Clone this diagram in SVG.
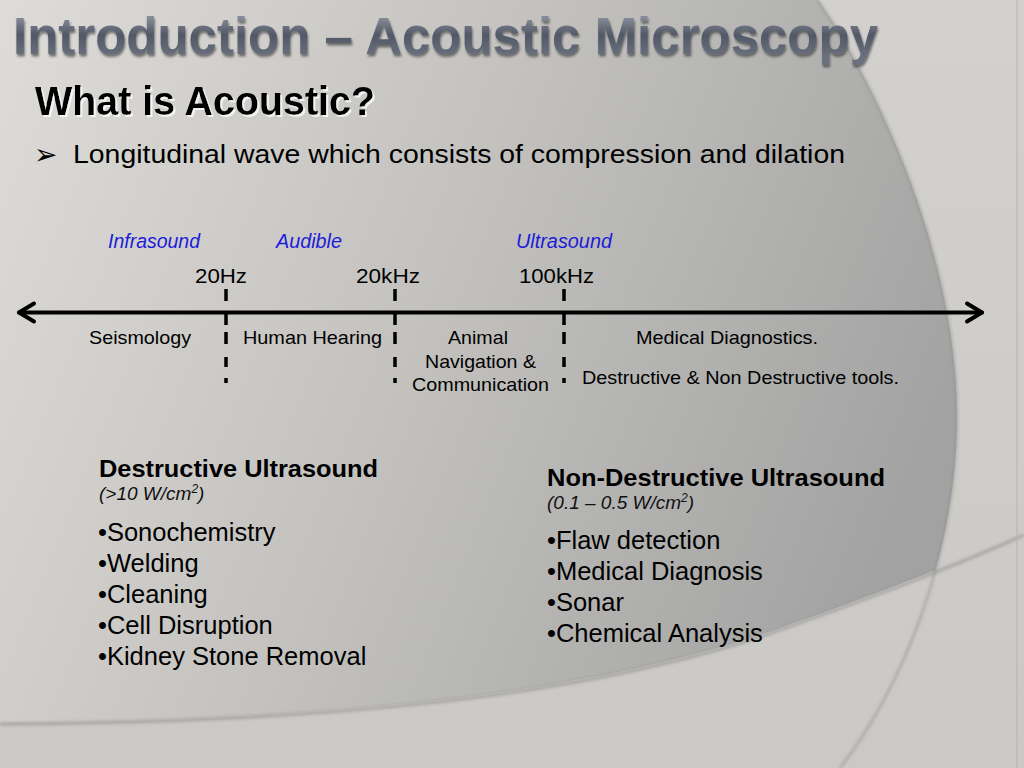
<svg xmlns="http://www.w3.org/2000/svg" width="1024" height="768" viewBox="0 0 1024 768">
<defs>
  <style>
    text { font-family: "Liberation Sans", Arial, sans-serif; fill: #000; }
    .range { font-size: 19.5px; font-style: italic; fill: #1c1cd8; }
    .freq { font-size: 21px; }
    .band { font-size: 19px; }
    .head { font-size: 24px; font-weight: bold; }
    .sub { font-size: 19px; font-style: italic; fill: #111; }
    .item { font-size: 25.5px; }
    .axis { stroke: #000; stroke-width: 4; fill: none; stroke-linecap: round; stroke-linejoin: round; }
    .tick { stroke: #000; stroke-width: 3.5; fill: none; }
  </style>
  <linearGradient id="bgOuter" x1="0" y1="0" x2="0" y2="1">
    <stop offset="0" stop-color="#d2d1ce"/>
    <stop offset="1" stop-color="#cbc9c6"/>
  </linearGradient>
  <linearGradient id="bgInner" x1="0" y1="0" x2="1" y2="0.3">
    <stop offset="0" stop-color="#dedcd8"/>
    <stop offset="0.5" stop-color="#c2c1be"/>
    <stop offset="1" stop-color="#a2a2a2"/>
  </linearGradient>
  <linearGradient id="titleFill" gradientUnits="userSpaceOnUse" x1="0" y1="18" x2="0" y2="56">
    <stop offset="0" stop-color="#848a96"/>
    <stop offset="0.45" stop-color="#525866"/>
    <stop offset="1" stop-color="#6a707d"/>
  </linearGradient>
  <clipPath id="arcClip">
    <path d="M0 0 H818 C880 90 958 260 957 420 C956 560 900 690 840 768 H0 Z"/>
  </clipPath>
  <clipPath id="bottomClip">
    <path d="M0 0 H1024 V533 C960 562 860 600 760 635 C560 700 300 720 0 722 Z"/>
  </clipPath>
  <filter id="titleShadow" x="-5%" y="-20%" width="110%" height="150%">
    <feDropShadow dx="1" dy="2.5" stdDeviation="1.2" flood-color="#2a2a2a" flood-opacity="0.6"/>
  </filter>
  <filter id="whiteShadow" x="-5%" y="-20%" width="110%" height="150%">
    <feDropShadow dx="2" dy="2" stdDeviation="0.6" flood-color="#ffffff" flood-opacity="0.75"/>
  </filter>
  <filter id="soft" x="-5%" y="-5%" width="110%" height="110%">
    <feGaussianBlur stdDeviation="1.5"/>
  </filter>
</defs>

<!-- background -->
<g id="background">
  <rect x="0" y="0" width="1024" height="768" fill="url(#bgOuter)"/>
  <g clip-path="url(#bottomClip)">
    <g clip-path="url(#arcClip)">
      <rect x="0" y="0" width="1024" height="768" fill="url(#bgInner)"/>
    </g>
  </g>
  <path d="M818 0 C880 90 958 260 957 420 C956 560 900 690 840 768" fill="none" stroke="#8a8a8a" stroke-width="2.5" stroke-opacity="0.5" filter="url(#soft)"/>
  <path d="M0 724 C300 722 560 702 760 637 C860 602 960 564 1024 535" fill="none" stroke="#7e7e7e" stroke-width="3" stroke-opacity="0.5" filter="url(#soft)"/>
  <line x1="1017" y1="0" x2="1017" y2="768" stroke="#b8b7b4" stroke-width="2" stroke-opacity="0.6"/>
</g>

<g id="title">
  <text x="13" y="54" font-size="51" font-weight="bold" textLength="865" lengthAdjust="spacingAndGlyphs" style="fill:url(#titleFill)" filter="url(#titleShadow)">Introduction – Acoustic Microscopy</text>
</g>

<g id="heading">
  <text x="35" y="115" font-size="40" font-weight="bold" textLength="340" lengthAdjust="spacingAndGlyphs" filter="url(#whiteShadow)">What is Acoustic?</text>
</g>

<g id="definition">
  <text x="34" y="164" font-size="28" style="font-family:'DejaVu Sans',sans-serif">➢</text>
  <text x="73" y="163" font-size="26" textLength="772" lengthAdjust="spacingAndGlyphs">Longitudinal wave which consists of compression and dilation</text>
</g>

<!-- connectors: frequency axis and boundaries -->
<g id="connectors">
  <line class="axis" x1="19" y1="312.5" x2="982" y2="312.5"/>
  <path class="axis" d="M34 303.5 L19 312.5 L34 321.5"/>
  <path class="axis" d="M967 303.5 L982 312.5 L967 321.5"/>
  <path class="tick" d="M226 289 V301 M226 311 V325 M226 332 V344 M226 357 V367 M226 378 V383"/>
  <path class="tick" d="M395 289 V301 M395 311 V325 M395 332 V344 M395 357 V367 M395 378 V383"/>
  <path class="tick" d="M564 289 V301 M564 311 V325 M564 332 V344 M564 357 V367 M564 378 V383"/>
</g>

<g id="range-infrasound"><text class="range" x="108" y="248" textLength="92" lengthAdjust="spacingAndGlyphs">Infrasound</text></g>
<g id="range-audible"><text class="range" x="276" y="248" textLength="66" lengthAdjust="spacingAndGlyphs">Audible</text></g>
<g id="range-ultrasound"><text class="range" x="516" y="248" textLength="96" lengthAdjust="spacingAndGlyphs">Ultrasound</text></g>

<g id="freq-20hz"><text class="freq" x="195" y="283" textLength="52" lengthAdjust="spacingAndGlyphs">20Hz</text></g>
<g id="freq-20khz"><text class="freq" x="356" y="283" textLength="64" lengthAdjust="spacingAndGlyphs">20kHz</text></g>
<g id="freq-100khz"><text class="freq" x="519" y="283" textLength="75" lengthAdjust="spacingAndGlyphs">100kHz</text></g>

<g id="band-seismology"><text class="band" x="89" y="344" textLength="102" lengthAdjust="spacingAndGlyphs">Seismology</text></g>
<g id="band-human"><text class="band" x="243" y="344" textLength="139" lengthAdjust="spacingAndGlyphs">Human Hearing</text></g>
<g id="band-animal">
  <text class="band" x="448" y="344" textLength="60" lengthAdjust="spacingAndGlyphs">Animal</text>
  <text class="band" x="425" y="368" textLength="111" lengthAdjust="spacingAndGlyphs">Navigation &amp;</text>
  <text class="band" x="412" y="391" textLength="137" lengthAdjust="spacingAndGlyphs">Communication</text>
</g>
<g id="band-medical">
  <text class="band" x="636" y="344" textLength="182" lengthAdjust="spacingAndGlyphs">Medical Diagnostics.</text>
  <text class="band" x="582" y="384" textLength="317" lengthAdjust="spacingAndGlyphs">Destructive &amp; Non Destructive tools.</text>
</g>

<g id="destructive">
  <text class="head" x="99" y="477" textLength="279" lengthAdjust="spacingAndGlyphs">Destructive Ultrasound</text>
  <text class="sub" x="99" y="500">(&gt;10 W/cm<tspan font-size="12" dy="-7">2</tspan><tspan dy="7">)</tspan></text>
  <text class="item" x="98" y="541">•Sonochemistry</text>
  <text class="item" x="98" y="572">•Welding</text>
  <text class="item" x="98" y="603">•Cleaning</text>
  <text class="item" x="98" y="634">•Cell Disruption</text>
  <text class="item" x="98" y="665">•Kidney Stone Removal</text>
</g>

<g id="non-destructive">
  <text class="head" x="547" y="486" textLength="338" lengthAdjust="spacingAndGlyphs">Non-Destructive Ultrasound</text>
  <text class="sub" x="547" y="509">(0.1 – 0.5 W/cm<tspan font-size="12" dy="-7">2</tspan><tspan dy="7">)</tspan></text>
  <text class="item" x="547" y="549">•Flaw detection</text>
  <text class="item" x="547" y="580">•Medical Diagnosis</text>
  <text class="item" x="547" y="611">•Sonar</text>
  <text class="item" x="547" y="642">•Chemical Analysis</text>
</g>
</svg>
